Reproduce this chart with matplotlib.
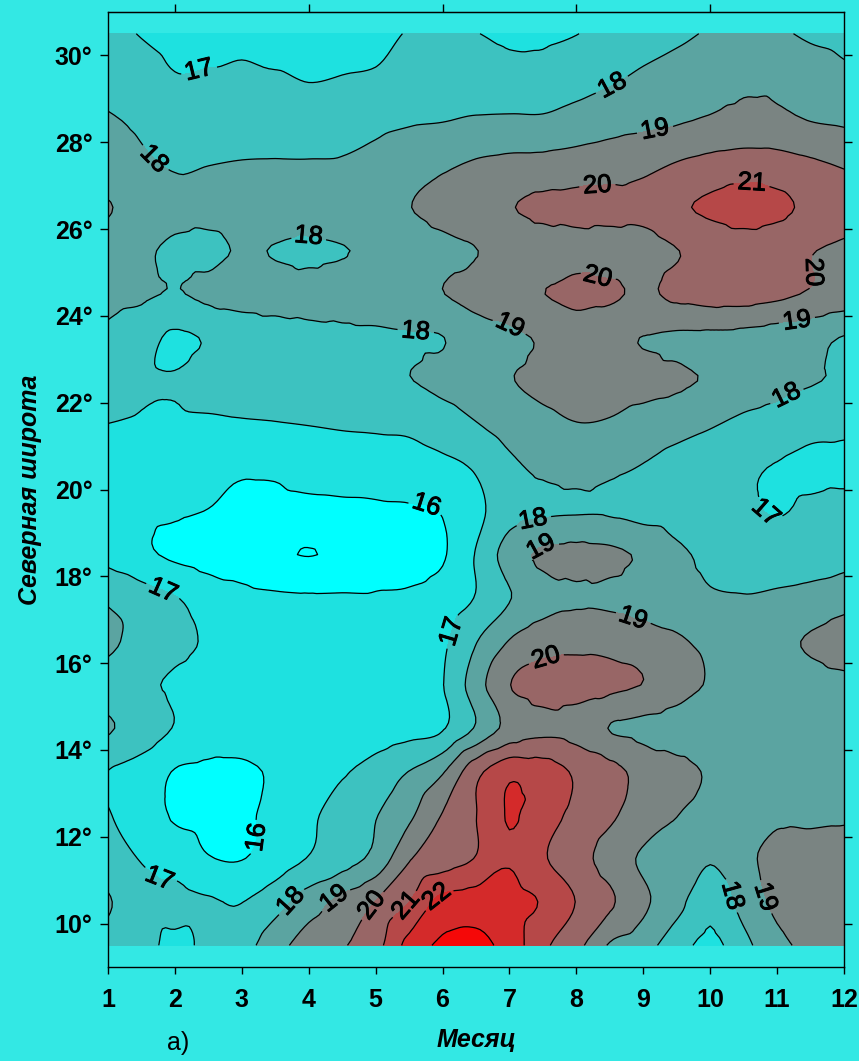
import matplotlib
matplotlib.use("Agg")
import matplotlib.pyplot as plt
import matplotlib.tri as mtri
import matplotlib.patheffects as pe
import numpy as np

plt.rcParams['font.family'] = ['Liberation Sans', 'DejaVu Sans']

# grid: months (half-month steps) and latitude rows (deg N)
months = [1, 1.5, 2, 2.5, 3, 3.5, 4, 4.5, 5, 5.5, 6, 6.5,
          7, 7.5, 8, 8.5, 9, 9.5, 10, 10.5, 11, 11.5, 12]
lats = [9.5, 10.5, 11.5, 12.5, 13.5, 14.5, 15.5, 16.5, 17.5, 18.5, 19.5,
        20.5, 21.5, 22.5, 23.5, 24.5, 25.5, 26.5, 27.5, 28.5, 29.5, 30.5]

# temperature, one list per latitude row
t09_5 = [17.6, 17.3, 16.8, 17.2, 17.6, 18.6, 19.5, 19.9, 20.65, 22.33, 23.2, 23.3,
         22.6, 21.2, 20.3, 18.9, 18.4, 17.45, 16.75, 17.7, 18.75, 19.2, 19.3]
t10_5 = [18.1, 17.35, 17.3, 17.1, 16.98, 17.6, 18.5, 19.3, 20.03, 21.0, 22.3, 22.5,
         22.4, 21.9, 20.97, 20.15, 19.2, 18.3, 17.3, 18.35, 19.2, 19.5, 19.6]
t11_5 = [17.35, 16.95, 16.6, 16.05, 15.97, 16.45, 17.05, 17.55, 18.3, 19.9, 20.5, 21.05,
         21.9, 21.1, 20.4, 19.6, 18.85, 18.6, 18.1, 18.75, 19.3, 19.35, 19.4]
t12_5 = [17.05, 16.6, 15.9, 15.75, 15.85, 16.25, 16.8, 17.45, 17.95, 18.8, 20.05, 20.98,
         22.07, 21.4, 20.75, 20.15, 19.55, 19.02, 18.7, 18.6, 18.85, 18.85, 18.9]
t13_5 = [16.98, 16.6, 15.95, 15.8, 15.85, 16.1, 16.45, 16.9, 17.4, 18.02, 18.9, 20.7,
         21.75, 21.5, 20.85, 20.3, 19.7, 19.3, 18.9, 18.7, 18.6, 18.65, 18.75]
t14_5 = [18.1, 17.6, 16.95, 16.6, 16.45, 16.4, 16.4, 16.45, 16.5, 16.7, 16.92, 18.1,
         19.3, 19.75, 19.6, 18.97, 18.75, 18.5, 18.35, 18.3, 18.35, 18.45, 18.55]
t15_5 = [17.5, 17.2, 16.85, 16.6, 16.5, 16.45, 16.45, 16.5, 16.6, 16.75, 16.97, 18.55,
         19.97, 20.4, 20.35, 20.2, 19.98, 19.5, 18.9, 18.6, 18.5, 18.6, 18.75]
t16_5 = [18.25, 17.6, 17.25, 16.9, 16.6, 16.5, 16.45, 16.45, 16.5, 16.6, 16.85, 17.95,
         19.05, 19.6, 19.75, 19.7, 19.5, 19.15, 18.75, 18.6, 18.8, 19.1, 19.45]
t17_5 = [17.85, 17.45, 17.05, 16.6, 16.3, 16.15, 16.1, 16.1, 16.1, 16.15, 16.45, 17.05,
         17.95, 18.6, 18.85, 18.8, 18.55, 18.35, 18.1, 18.05, 18.15, 18.3, 18.6]
t18_5 = [16.7, 16.2, 15.85, 15.6, 15.45, 15.12, 14.98, 15.12, 15.45, 15.6, 15.9, 17.05,
         18.5, 19.15, 19.3, 19.2, 18.85, 18.2, 17.8, 17.6, 17.5, 17.55, 17.65]
t19_5 = [16.3, 16.2, 16.1, 15.98, 15.8, 15.75, 15.75, 15.8, 15.85, 15.9, 16.05, 16.75,
         17.6, 17.85, 17.93, 17.9, 17.7, 17.55, 17.35, 17.15, 16.95, 17.15, 17.3]
t20_5 = [16.55, 16.5, 16.4, 16.3, 16.12, 16.15, 16.35, 16.4, 16.45, 16.55, 16.75, 17.1,
         17.8, 18.15, 18.3, 18.15, 17.95, 17.65, 17.4, 17.15, 16.95, 16.85, 16.8]
t21_5 = [16.99, 16.9, 16.85, 16.85, 16.9, 16.95, 17.02, 17.1, 17.15, 17.2, 17.5, 17.95,
         18.4, 18.75, 18.97, 18.9, 18.6, 18.35, 18.08, 17.8, 17.6, 17.25, 17.2]
t22_5 = [17.45, 17.15, 17.05, 17.35, 17.5, 17.6, 17.65, 17.75, 17.85, 17.97, 18.25, 18.6,
         18.95, 19.2, 19.35, 19.4, 19.3, 19.15, 18.9, 18.5, 18.3, 18.08, 17.85]
t23_5 = [17.8, 17.4, 16.85, 17.1, 17.5, 17.6, 17.7, 17.75, 17.8, 17.9, 17.98, 18.5,
         18.8, 19.1, 19.3, 19.25, 18.98, 18.85, 18.8, 18.7, 18.5, 18.3, 17.95]
t24_5 = [18.3, 18.15, 17.95, 18.2, 18.3, 18.35, 18.4, 18.5, 18.65, 18.8, 18.98, 19.35,
         19.6, 19.98, 20.3, 20.15, 19.85, 20.2, 20.4, 20.4, 20.2, 19.9, 19.6]
t25_5 = [18.55, 18.2, 17.8, 17.75, 18.1, 17.95, 17.8, 17.95, 18.2, 18.5, 18.75, 18.98,
         19.3, 19.5, 19.6, 19.55, 19.55, 19.97, 20.3, 20.45, 20.35, 20.05, 19.8]
t26_5 = [19.05, 18.7, 18.35, 18.3, 18.45, 18.5, 18.55, 18.65, 18.8, 18.98, 19.3, 19.6,
         19.95, 20.2, 20.3, 20.3, 20.3, 20.85, 21.15, 21.4, 21.2, 20.8, 20.5]
t27_5 = [18.4, 18.15, 17.9, 17.98, 18.05, 18.07, 18.07, 18.1, 18.3, 18.6, 18.85, 19.1,
         19.25, 19.3, 19.4, 19.55, 19.75, 20.05, 20.3, 20.45, 20.4, 20.15, 19.9]
t28_5 = [18.1, 17.85, 17.55, 17.5, 17.45, 17.45, 17.4, 17.55, 17.75, 17.9, 17.97, 18.1,
         18.15, 18.15, 18.4, 18.6, 18.75, 18.9, 19.1, 19.25, 19.2, 18.98, 18.85]
t29_5 = [17.6, 17.4, 17.05, 17.1, 17.25, 17.08, 16.95, 17.02, 17.1, 17.35, 17.45, 17.45,
         17.3, 17.3, 17.55, 17.85, 18.15, 18.4, 18.65, 18.85, 18.8, 18.5, 18.2]
t30_5 = [17.3, 16.95, 16.7, 16.6, 16.55, 16.55, 16.6, 16.7, 16.75, 17.05, 17.15, 17.02,
         16.85, 16.85, 16.98, 17.3, 17.55, 17.8, 18.1, 18.35, 18.15, 17.85, 17.7]

levels = [14, 15, 16, 17, 18, 19, 20, 21, 22, 23, 24]
line_levels = [15, 16, 17, 18, 19, 20, 21, 22, 23]
fill_colors = ['#00FFFF', '#00FFFF', '#1EE1E0', '#3DC2C0', '#5BA4A1',
               '#7A8482', '#986666', '#B64848', '#D42A2A', '#F50808']

# label spots (month, latitude)
label_spots = [(2.35, 29.7), (1.82, 17.66), (1.7, 10.9), (6.2, 16.7), (10.9, 19.6),
               (1.68, 27.6), (4.0, 25.85), (5.6, 23.67), (8.55, 29.27), (11.1, 22.24),
               (7.35, 19.34), (3.72, 10.53), (10.22, 10.6),
               (9.2, 28.1), (7.0, 23.75), (11.3, 23.85), (7.45, 18.75), (8.85, 17.04),
               (4.37, 10.6), (10.8, 10.6),
               (8.31, 26.82), (8.31, 24.83), (11.52, 25.0), (7.5, 16.4), (4.96, 10.4),
               (10.63, 26.96), (5.47, 10.4), (5.91, 10.62),
               (5.74, 19.5), (3.17, 12.0)]

temp = np.array([t09_5, t10_5, t11_5, t12_5, t13_5, t14_5, t15_5, t16_5, t17_5, t18_5,
                 t19_5, t20_5, t21_5, t22_5, t23_5, t24_5, t25_5, t26_5, t27_5, t28_5,
                 t29_5, t30_5])

bg = '#33E8E4'
fig = plt.figure(figsize=(8.59, 10.61), dpi=100, facecolor=bg)
ax = fig.add_axes([108/859, 1-967/1061, 736/859, 955/1061])
ax.set_facecolor(bg)

# smooth the gridded field with matplotlib's own cubic triangulation refiner
X, Y = np.meshgrid(months, lats)
tri = mtri.Triangulation(X.ravel(), Y.ravel())
interp = mtri.CubicTriInterpolator(tri, temp.ravel(), kind='geom')
refiner = mtri.UniformTriRefiner(tri)
tri_f, temp_f = refiner.refine_field(temp.ravel(), triinterpolator=interp, subdiv=3)

ax.tricontourf(tri_f, temp_f, levels=levels, colors=fill_colors)
cs = ax.tricontour(tri_f, temp_f, levels=line_levels, colors='black', linewidths=0.9)
labels = ax.clabel(cs, inline=True, fontsize=18.5, fmt='%d', manual=label_spots,
                   inline_spacing=4)
for t in labels:
    t.set_path_effects([pe.withStroke(linewidth=0.7, foreground='black')])

ax.set_xlim(1, 12)
ax.set_ylim(9, 31)
ax.set_xticks(range(1, 13))
ax.set_xticklabels([str(m) for m in range(1, 13)], fontsize=18, fontweight='bold')
yt = list(range(10, 31, 2))
ax.set_yticks(yt)
ax.set_yticklabels([f'{v}°' for v in yt], fontsize=18, fontweight='bold')
ax.tick_params(axis='x', direction='out', length=5, width=1, pad=10)
ax.tick_params(axis='y', direction='out', length=6, width=1, pad=5, right=True)

top = ax.secondary_xaxis('top')
top.set_xticks([2, 4, 6, 8, 10])
top.tick_params(direction='out', length=6, width=1, labeltop=False)

for s in ax.spines.values():
    s.set_linewidth(1)

fig.text(0.035, 0.538, 'Северная широта', rotation=90, ha='center', va='center',
         fontsize=18, fontweight='bold', fontstyle='italic')
fig.text(0.555, 0.02, 'Месяц', ha='center', va='center',
         fontsize=18, fontweight='bold', fontstyle='italic')
fig.text(0.207, 0.017, 'а)', ha='center', va='center', fontsize=18)

fig.savefig('out.png', dpi=100, facecolor=bg)
